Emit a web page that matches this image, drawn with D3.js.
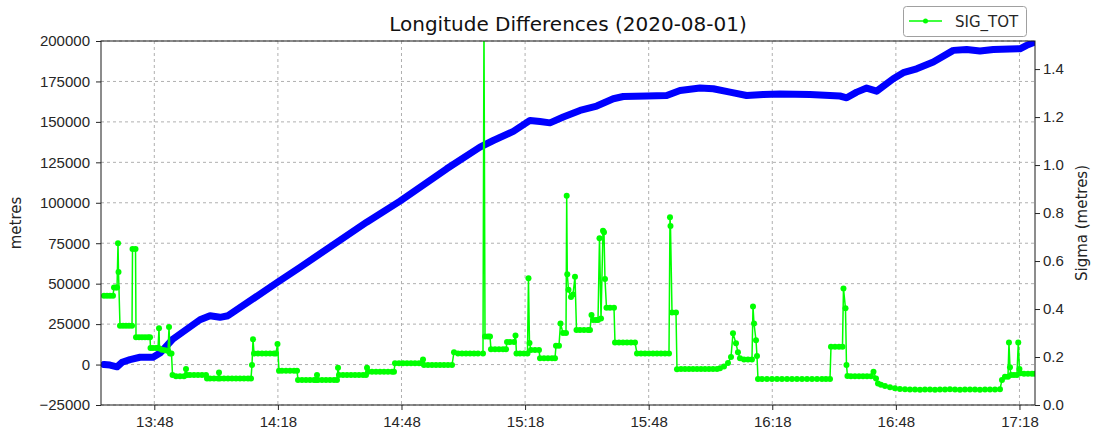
<!DOCTYPE html>
<html lang="en">
<head>
    <meta charset="utf-8">
    <title>Longitude Differences</title>
    <style>
        body {
            margin: 0;
            background: #fff;
        }
        svg {
            font-family: "DejaVu Sans", sans-serif;
        }
        .grid line {
            stroke: #b0b0b0;
            stroke-width: 1;
            stroke-dasharray: 3,3;
        }
        .axis text {
            font-size: 15px;
            fill: #262626;
        }
        .axis line {
            stroke: #262626;
        }
    </style>
</head>
<body>
<svg class="chart"></svg>
<script src="https://d3js.org/d3.v7.min.js"></script>
<script>
    // times are minutes after 13:00 on 2020-08-01
    const lonMinutes = [35.79, 37.25, 38.95, 40.16, 42.10, 44.53, 47.68, 49.38, 52.54, 59.09,
        61.52, 63.95, 65.89, 77.95, 83.36, 99.55, 107.64, 118.97,
        127.05, 130.28, 135.14, 139.19, 141.62, 144.04, 147.27, 151.33, 155.38, 159.41,
        161.84, 167.52, 172.37, 175.60, 180.45, 183.68, 187.73, 191.78, 195.82, 199.87,
        207.15, 214.43, 216.06, 218.49, 220.91, 223.34, 227.37, 229.80, 233.05, 237.08,
        241.93, 245.18, 248.41, 251.65, 258.12, 259.74, 261.76];
    const lonDiff = [0, -300, -1400, 1400, 3000, 4500, 4500, 7100, 15800, 27700,
        30200, 29200, 30200, 50900, 60100, 88000, 101000, 121000,
        134400, 138500, 144100, 150900, 150200, 149400, 153000, 157100, 159800, 164300,
        165700, 166000, 166300, 169400, 170900, 170500, 168400, 166300, 167000, 167200,
        167000, 166000, 164900, 168400, 170900, 169000, 176700, 180400, 182800, 187000,
        194200, 194800, 193800, 194800, 195200, 197300, 199400];

    const sigMinutes = [35.79, 36.52, 37.25, 37.97, 38.22, 38.70, 38.95, 39.19, 39.31, 39.67,
        40.40, 41.13, 41.86, 42.59, 42.71, 43.44, 43.56, 44.29, 45.01, 45.74,
        46.47, 46.96, 47.08, 47.68, 48.41, 48.90, 49.14, 49.26, 49.87, 50.60,
        51.33, 51.57, 51.81, 52.17, 52.42, 53.27, 54.24, 55.21, 55.69, 55.94,
        56.66, 57.64, 58.61, 59.58, 60.55, 60.79, 61.52, 62.49, 63.46, 63.70,
        63.95, 64.92, 65.89, 66.86, 67.83, 68.80, 69.77, 70.74, 71.47, 71.71,
        71.96, 72.20, 73.17, 74.14, 75.11, 76.08, 77.05, 77.54, 77.90, 78.27,
        78.99, 79.97, 80.94, 81.91, 82.64, 82.88, 83.85, 84.82, 85.79, 86.76,
        87.25, 87.49, 87.73, 88.70, 89.67, 90.64, 91.62, 92.34, 92.59, 92.83,
        93.80, 94.77, 95.74, 96.71, 97.68, 98.66, 99.38, 99.63, 99.87, 100.84,
        101.81, 102.78, 103.75, 104.72, 105.69, 106.18, 106.42, 107.39, 108.36, 109.34,
        110.31, 111.28, 112.25, 112.98, 113.22, 113.46, 114.43, 115.40, 116.37, 117.34,
        118.32, 119.29, 120.26, 120.74, 121.71, 122.68, 123.66, 124.63, 125.60, 126.57,
        127.78, 128.02, 128.27, 128.99, 129.48, 129.72, 130.69, 131.67, 132.64, 133.37,
        133.61, 134.33, 135.30, 135.67, 135.91, 136.76, 137.73, 138.58, 138.82, 139.07,
        139.43, 140.40, 141.37, 141.62, 142.59, 143.56, 144.53, 145.26, 145.50, 146.23,
        146.59, 147.20, 147.93, 148.10, 148.24, 148.53, 149.14, 149.63, 150.11, 150.48,
        151.33, 152.30, 153.27, 153.75, 154.12, 154.48, 155.21, 155.70, 156.06, 156.43,
        156.91, 157.15, 157.39, 157.76, 158.61, 159.58, 159.82, 160.79, 161.76, 162.73,
        163.71, 164.68, 165.16, 166.13, 167.10, 168.07, 169.05, 170.02, 170.99, 171.96,
        172.93, 173.17, 173.29, 173.66, 174.63, 174.87, 175.84, 176.81, 177.78, 178.75,
        179.72, 180.70, 181.67, 182.64, 183.61, 184.58, 185.31, 186.28, 187.25, 187.98,
        188.46, 189.19, 189.67, 190.16, 191.13, 192.10, 193.07, 193.32, 193.56, 194.05,
        194.29, 194.53, 195.50, 196.71, 197.93, 199.14, 200.35, 201.57, 202.78, 203.99,
        205.21, 206.42, 207.64, 208.85, 210.06, 211.03, 212.01, 212.25, 213.22, 214.19,
        215.04, 215.28, 215.77, 216.01, 216.25, 217.10, 218.07, 219.05, 220.02, 220.99,
        221.96, 222.57, 223.18, 223.66, 224.38, 225.36, 226.57, 227.78, 228.99, 230.21,
        231.42, 232.64, 233.85, 235.06, 236.28, 237.49, 238.70, 239.92, 241.13, 242.35,
        243.56, 244.77, 245.99, 247.20, 248.41, 249.63, 250.84, 252.06, 253.27, 253.75,
        254.48, 255.21, 255.45, 255.70, 255.94, 256.66, 257.39, 257.71, 258.00, 258.24,
        259.10, 260.07, 261.04, 261.76];
    const sigTot = [0.455, 0.455, 0.455, 0.455, 0.49, 0.49, 0.49, 0.674, 0.554, 0.33,
        0.33, 0.33, 0.33, 0.33, 0.65, 0.65, 0.282, 0.282, 0.282, 0.282,
        0.282, 0.282, 0.2375, 0.2375, 0.2375, 0.2375, 0.32, 0.235, 0.23, 0.228,
        0.225, 0.325, 0.215, 0.215, 0.125, 0.12, 0.12, 0.12, 0.15, 0.125,
        0.125, 0.125, 0.125, 0.125, 0.125, 0.11, 0.11, 0.11, 0.11, 0.135,
        0.11, 0.11, 0.11, 0.11, 0.11, 0.11, 0.11, 0.11, 0.11, 0.167,
        0.274, 0.215, 0.215, 0.215, 0.215, 0.215, 0.215, 0.215, 0.254, 0.143,
        0.143, 0.143, 0.143, 0.143, 0.143, 0.104, 0.104, 0.104, 0.104, 0.104,
        0.104, 0.125, 0.104, 0.104, 0.104, 0.104, 0.104, 0.104, 0.155, 0.125,
        0.125, 0.125, 0.125, 0.125, 0.125, 0.125, 0.125, 0.155, 0.139, 0.139,
        0.139, 0.139, 0.139, 0.139, 0.139, 0.139, 0.174, 0.174, 0.174, 0.174,
        0.174, 0.174, 0.174, 0.174, 0.19, 0.167, 0.167, 0.167, 0.167, 0.167,
        0.167, 0.167, 0.167, 0.22, 0.215, 0.215, 0.215, 0.215, 0.215, 0.215,
        0.215, 1.6, 0.285, 0.285, 0.285, 0.232, 0.232, 0.232, 0.232, 0.232,
        0.2625, 0.2625, 0.2625, 0.29, 0.215, 0.215, 0.215, 0.215, 0.528, 0.258,
        0.229, 0.229, 0.229, 0.195, 0.195, 0.195, 0.195, 0.195, 0.247, 0.247,
        0.34, 0.3, 0.3, 0.872, 0.545, 0.48, 0.45, 0.46, 0.535, 0.3125,
        0.3125, 0.3125, 0.3125, 0.3125, 0.375, 0.354, 0.354, 0.354, 0.695, 0.36,
        0.726, 0.72, 0.525, 0.405, 0.405, 0.405, 0.26, 0.26, 0.26, 0.26,
        0.26, 0.26, 0.215, 0.215, 0.215, 0.215, 0.215, 0.215, 0.215, 0.215,
        0.215, 0.782, 0.746, 0.385, 0.385, 0.149, 0.15, 0.15, 0.15, 0.15,
        0.15, 0.15, 0.15, 0.15, 0.15, 0.15, 0.153, 0.16, 0.175, 0.2,
        0.299, 0.257, 0.22, 0.195, 0.19, 0.19, 0.19, 0.41, 0.34, 0.27,
        0.204, 0.108, 0.108, 0.108, 0.108, 0.108, 0.108, 0.108, 0.108, 0.108,
        0.108, 0.108, 0.108, 0.108, 0.108, 0.108, 0.108, 0.243, 0.243, 0.243,
        0.243, 0.486, 0.403, 0.167, 0.121, 0.12, 0.12, 0.12, 0.12, 0.12,
        0.12, 0.139, 0.11, 0.09, 0.084, 0.079, 0.074, 0.07, 0.067, 0.066,
        0.065, 0.065, 0.064, 0.065, 0.065, 0.064, 0.065, 0.065, 0.066, 0.065,
        0.064, 0.065, 0.065, 0.065, 0.064, 0.065, 0.065, 0.065, 0.066, 0.104,
        0.118, 0.118, 0.26, 0.157, 0.125, 0.125, 0.125, 0.26, 0.15, 0.132,
        0.13, 0.13, 0.13, 0.13];

    const timeTicks = ["13:48", "14:18", "14:48", "15:18", "15:48", "16:18", "16:48", "17:18"];
    const metreTicks = [-25000, 0, 25000, 50000, 75000, 100000, 125000, 150000, 175000, 200000];
    const sigmaTicks = [0.0, 0.2, 0.4, 0.6, 0.8, 1.0, 1.2, 1.4];

    const width = 1098;
    const height = 433;
    const margin = {top: 41, right: 63, bottom: 28, left: 101};
    const plotW = width - margin.left - margin.right;
    const plotH = height - margin.top - margin.bottom;

    const day = new Date(2020, 7, 1, 13, 0, 0);
    function toTime(m) {
        return new Date(day.getTime() + m * 60000);
    }
    const parseTick = d3.timeParse("%Y-%m-%d %H:%M");

    const xScale = d3.scaleTime()
        .domain([toTime(35.06), toTime(261.77)])
        .range([0, plotW]);
    const yLeft = d3.scaleLinear()
        .domain([-25000, 200000])
        .range([plotH, 0]);
    const yRight = d3.scaleLinear()
        .domain([0, 1.517])
        .range([plotH, 0]);

    const svg = d3.select(".chart")
        .attr("width", width)
        .attr("height", height);

    svg.append("defs").append("clipPath")
        .attr("id", "plot-clip")
        .append("rect")
        .attr("width", plotW)
        .attr("height", plotH);

    const g = svg.append("g")
        .attr("transform", "translate(" + margin.left + "," + margin.top + ")");

    // grid
    const grid = g.append("g").attr("class", "grid");
    grid.selectAll(".vgrid")
        .data(timeTicks)
        .enter().append("line")
        .attr("x1", function(d) { return xScale(parseTick("2020-08-01 " + d)); })
        .attr("x2", function(d) { return xScale(parseTick("2020-08-01 " + d)); })
        .attr("y1", 0)
        .attr("y2", plotH);
    grid.selectAll(".hgrid")
        .data(metreTicks)
        .enter().append("line")
        .attr("x1", 0)
        .attr("x2", plotW)
        .attr("y1", function(d) { return yLeft(d); })
        .attr("y2", function(d) { return yLeft(d); });

    // blue longitude difference line (left axis)
    const lonLine = d3.line()
        .x(function(d, i) { return xScale(toTime(lonMinutes[i])); })
        .y(function(d) { return yLeft(d); });
    g.append("path")
        .datum(lonDiff)
        .attr("clip-path", "url(#plot-clip)")
        .attr("d", lonLine)
        .attr("fill", "none")
        .attr("stroke", "#0000ff")
        .attr("stroke-width", 7)
        .attr("stroke-linejoin", "round")
        .attr("stroke-linecap", "round");

    // green sigma line (right axis)
    const sigLine = d3.line()
        .x(function(d, i) { return xScale(toTime(sigMinutes[i])); })
        .y(function(d) { return yRight(d); });
    const sigGroup = g.append("g").attr("clip-path", "url(#plot-clip)");
    sigGroup.append("path")
        .datum(sigTot)
        .attr("d", sigLine)
        .attr("fill", "none")
        .attr("stroke", "#00ff00")
        .attr("stroke-width", 1.5);
    sigGroup.selectAll("circle")
        .data(sigTot)
        .enter().append("circle")
        .attr("cx", function(d, i) { return xScale(toTime(sigMinutes[i])); })
        .attr("cy", function(d) { return yRight(d); })
        .attr("r", 3)
        .style("fill", "#00ff00");

    // axes
    const xAxis = d3.axisBottom(xScale)
        .tickValues(timeTicks.map(function(t) { return parseTick("2020-08-01 " + t); }))
        .tickFormat(d3.timeFormat("%H:%M"))
        .tickSize(5)
        .tickPadding(6);
    g.append("g")
        .attr("class", "axis")
        .attr("transform", "translate(0," + plotH + ")")
        .call(xAxis)
        .call(function(a) { a.select(".domain").remove(); });

    const leftAxis = d3.axisLeft(yLeft)
        .tickValues(metreTicks)
        .tickFormat(function(d) { return d < 0 ? "\u2212" + Math.abs(d) : String(d); })
        .tickSize(5)
        .tickPadding(6);
    g.append("g")
        .attr("class", "axis")
        .call(leftAxis)
        .call(function(a) { a.select(".domain").remove(); });

    const rightAxis = d3.axisRight(yRight)
        .tickValues(sigmaTicks)
        .tickFormat(d3.format(".1f"))
        .tickSize(5)
        .tickPadding(3);
    g.append("g")
        .attr("class", "axis")
        .attr("transform", "translate(" + plotW + ",0)")
        .call(rightAxis)
        .call(function(a) { a.select(".domain").remove(); });

    // frame
    g.append("rect")
        .attr("width", plotW)
        .attr("height", plotH)
        .attr("fill", "none")
        .attr("stroke", "#1a1a1a")
        .attr("stroke-width", 1);

    // labels
    svg.append("text")
        .attr("x", margin.left + plotW / 2)
        .attr("y", 31)
        .attr("text-anchor", "middle")
        .style("font-size", "20px")
        .style("fill", "#111")
        .text("Longitude Differences (2020-08-01)");

    svg.append("text")
        .attr("transform", "translate(21," + (margin.top + plotH / 2) + ") rotate(-90)")
        .attr("text-anchor", "middle")
        .style("font-size", "15px")
        .style("fill", "#262626")
        .text("metres");

    svg.append("text")
        .attr("transform", "translate(1087," + (margin.top + plotH / 2) + ") rotate(-90)")
        .attr("text-anchor", "middle")
        .style("font-size", "15px")
        .style("fill", "#262626")
        .text("Sigma (metres)");

    // legend
    const legend = svg.append("g").attr("class", "legend");
    legend.append("rect")
        .attr("x", 903.5)
        .attr("y", 6.5)
        .attr("width", 123)
        .attr("height", 30)
        .attr("rx", 3)
        .attr("fill", "#fff")
        .attr("stroke", "#a0a0a0");
    legend.append("line")
        .attr("x1", 909)
        .attr("x2", 942)
        .attr("y1", 21)
        .attr("y2", 21)
        .attr("stroke", "#00ff00")
        .attr("stroke-width", 1.5);
    legend.append("circle")
        .attr("cx", 925.5)
        .attr("cy", 21)
        .attr("r", 2.5)
        .style("fill", "#00ff00");
    legend.append("text")
        .attr("x", 955)
        .attr("y", 27)
        .style("font-size", "15px")
        .style("fill", "#262626")
        .text("SIG_TOT");
</script>
</body>
</html>
